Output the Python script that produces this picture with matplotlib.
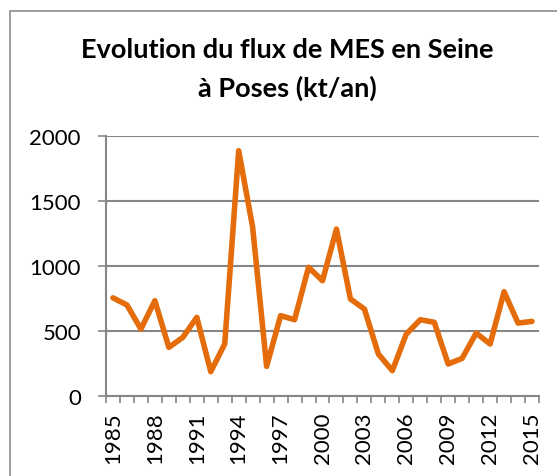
import matplotlib
matplotlib.use("Agg")
import matplotlib.pyplot as plt
from matplotlib.patches import Rectangle

plt.rcParams['font.family'] = ['Lato', 'DejaVu Sans']

# flux de MES en Seine a Poses (kt/an)
years = list(range(1985, 2016))
flux = [755, 700, 515, 733, 374, 451, 605, 187, 400, 1887,
        1297, 228, 618, 587, 990, 887, 1284, 746, 669, 323,
        195, 477, 587, 567, 246, 290, 484, 400, 802, 561, 574]
yticks = [0, 500, 1000, 1500, 2000]

W, H = 557, 477
fig = plt.figure(figsize=(W / 100, H / 100), dpi=100)

# cadre du graphique
fig.patches.append(Rectangle((10 / W, -0.1), 1.2, 1 - 12 / H + 0.1,
                             transform=fig.transFigure, fill=False,
                             edgecolor='#8c8c8c', linewidth=1.2))

ax = fig.add_axes([106 / W, 1 - 397 / H, (539 - 106) / W, (397 - 137) / H])
x = list(range(len(years)))
ax.plot(x, flux, color='#E46C0A', linewidth=4, solid_joinstyle='round',
        solid_capstyle='round', clip_on=False, zorder=3)

ax.set_xlim(-0.5, len(years) - 0.5)
ax.set_ylim(0, 2000)
ax.set_yticks(yticks)
ax.set_yticklabels([str(v) for v in yticks])
ax.yaxis.grid(True, color='#868686', linewidth=1.5)
ax.tick_params(axis='y', length=6, width=1.2, color='#868686', pad=12,
               labelsize=16)

ax.set_xticks(x[::3])
ax.set_xticklabels([str(y) for y in years[::3]], rotation=90)
ax.set_xticks([i - 0.5 for i in range(len(years) + 1)], minor=True)
ax.tick_params(axis='x', which='major', length=0, pad=11, labelsize=16)
ax.tick_params(axis='x', which='minor', length=5, width=1.2, color='#868686')

for s in ['top', 'right']:
    ax.spines[s].set_visible(False)
for s in ['left', 'bottom']:
    ax.spines[s].set_color('#868686')
    ax.spines[s].set_linewidth(1.5)

fig.text(287 / W, 1 - 50 / H, 'Evolution du flux de MES en Seine',
         ha='center', va='center', fontsize=19.5, fontweight='bold')
fig.text(287 / W, 1 - 88 / H, 'à Poses (kt/an)',
         ha='center', va='center', fontsize=19.5, fontweight='bold')

fig.savefig('out.png', dpi=100)
